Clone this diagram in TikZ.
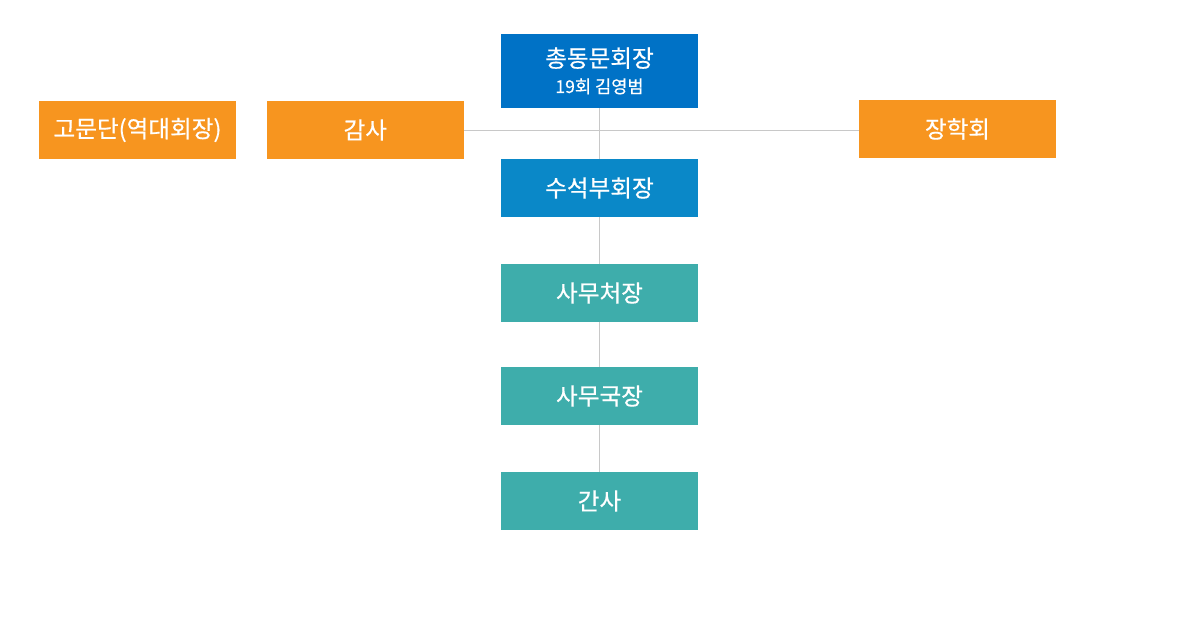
\documentclass[tikz,border=0pt]{standalone}
\usepackage{fontspec}
\setmainfont{Noto Sans CJK KR}[FakeBold=0.5]
\usepackage{xcolor}
\usepackage{tikz}
\usetikzlibrary{positioning}

\definecolor{topblue}{HTML}{0072C6}
\definecolor{midblue}{HTML}{0A88C8}
\definecolor{orgorange}{HTML}{F7951F}
\definecolor{orgteal}{HTML}{3EADAB}
\definecolor{linegray}{HTML}{C8C8C8}

\begin{document}
\begin{tikzpicture}[
    x=0.5pt, y=-0.5pt,
    org/.style={rectangle, minimum width=98.5pt, minimum height=28.85pt, inner sep=0pt,
        text=white, font=\fontsize{11.8}{13}\selectfont, align=center},
    chief/.style={org, fill=topblue, minimum height=36.85pt},
    vice/.style={org, fill=midblue},
    side/.style={org, fill=orgorange},
    staff/.style={org, fill=orgteal},
    link/.style={draw=linegray, line width=0.5pt}
]
\useasboundingbox (0,0) rectangle (1200,627);

% President
\node[chief] (pres) at (599.5,70.9) {총동문회장\\[0pt]{\fontsize{8.8}{10}\selectfont 19회 김영범}};

% Side boxes
\node[side] (advisors) at (137.5,130) {고문단(역대회장)};
\node[side] (audit) at (365.3,130) {감사};
\node[side] (scholar) at (957.5,129) {장학회};

% Main chain
\node[vice] (vp) at (599.5,188) {수석부회장};
\node[staff] (secgen) at (599.5,293) {사무처장};
\node[staff] (secdir) at (599.5,396) {사무국장};
\node[staff] (clerk) at (599.5,501) {간사};

% Connectors
\foreach \a/\b in {pres/vp, vp/secgen, secgen/secdir, secdir/clerk} {
    \draw[link] (\a.south) -- (\b.north);
}
\draw[link] (audit.east) -- (audit.east -| scholar.west);

\end{tikzpicture}
\end{document}
